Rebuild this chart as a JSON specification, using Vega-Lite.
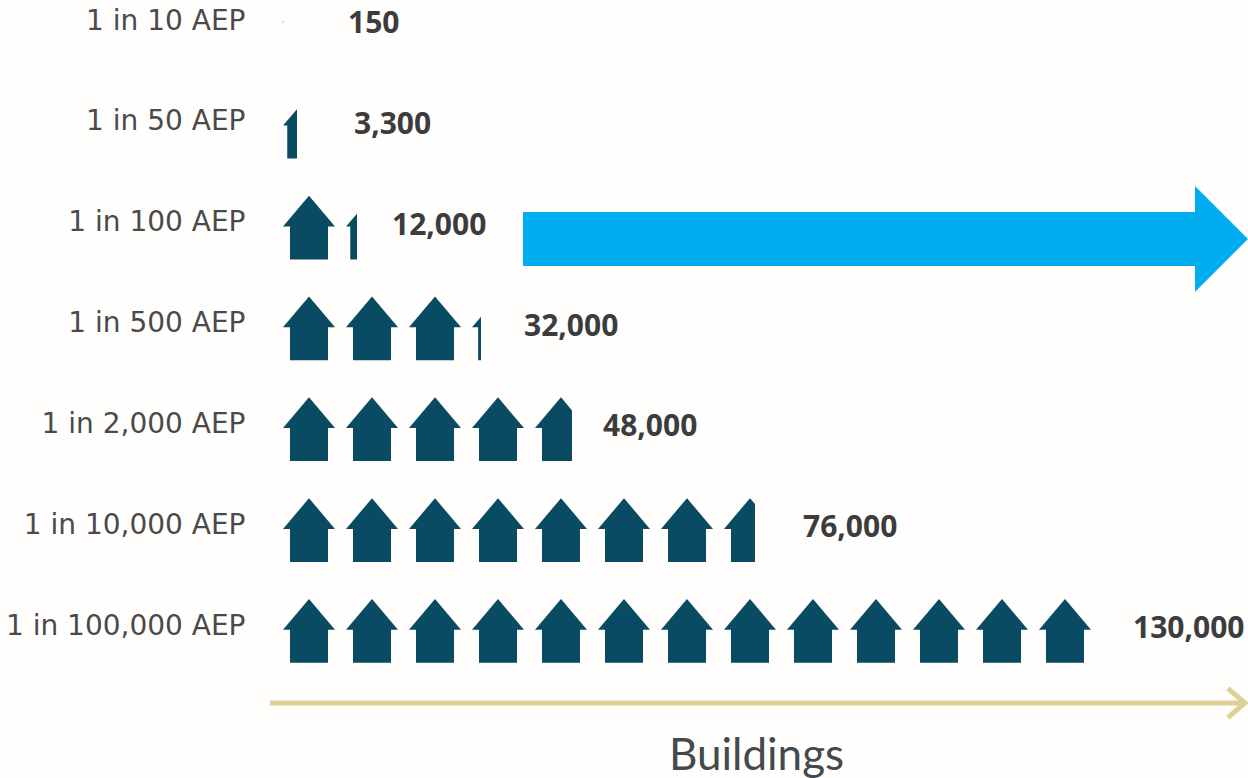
{
"$schema":"https://vega.github.io/schema/vega-lite/v6.json",
"width":1248,"height":778,"padding":0,"autosize":{"type":"none"},
"background":"#fffefc",
"config":{"view":{"stroke":null}},
"datasets":{
"houses":[
{"aep":"1 in 10 AEP","units":5000,"portion":"speck"},
{"aep":"1 in 50 AEP","units":5000,"portion":"0.27"},
{"aep":"1 in 100 AEP","units":5000,"portion":"full"},
{"aep":"1 in 100 AEP","units":15000,"portion":"0.21"},
{"aep":"1 in 500 AEP","units":5000,"portion":"full"},
{"aep":"1 in 500 AEP","units":15000,"portion":"full"},
{"aep":"1 in 500 AEP","units":25000,"portion":"full"},
{"aep":"1 in 500 AEP","units":35000,"portion":"0.17"},
{"aep":"1 in 2,000 AEP","units":5000,"portion":"full"},
{"aep":"1 in 2,000 AEP","units":15000,"portion":"full"},
{"aep":"1 in 2,000 AEP","units":25000,"portion":"full"},
{"aep":"1 in 2,000 AEP","units":35000,"portion":"full"},
{"aep":"1 in 2,000 AEP","units":45000,"portion":"0.71"},
{"aep":"1 in 10,000 AEP","units":5000,"portion":"full"},
{"aep":"1 in 10,000 AEP","units":15000,"portion":"full"},
{"aep":"1 in 10,000 AEP","units":25000,"portion":"full"},
{"aep":"1 in 10,000 AEP","units":35000,"portion":"full"},
{"aep":"1 in 10,000 AEP","units":45000,"portion":"full"},
{"aep":"1 in 10,000 AEP","units":55000,"portion":"full"},
{"aep":"1 in 10,000 AEP","units":65000,"portion":"full"},
{"aep":"1 in 10,000 AEP","units":75000,"portion":"0.60"},
{"aep":"1 in 100,000 AEP","units":5000,"portion":"full"},
{"aep":"1 in 100,000 AEP","units":15000,"portion":"full"},
{"aep":"1 in 100,000 AEP","units":25000,"portion":"full"},
{"aep":"1 in 100,000 AEP","units":35000,"portion":"full"},
{"aep":"1 in 100,000 AEP","units":45000,"portion":"full"},
{"aep":"1 in 100,000 AEP","units":55000,"portion":"full"},
{"aep":"1 in 100,000 AEP","units":65000,"portion":"full"},
{"aep":"1 in 100,000 AEP","units":75000,"portion":"full"},
{"aep":"1 in 100,000 AEP","units":85000,"portion":"full"},
{"aep":"1 in 100,000 AEP","units":95000,"portion":"full"},
{"aep":"1 in 100,000 AEP","units":105000,"portion":"full"},
{"aep":"1 in 100,000 AEP","units":115000,"portion":"full"},
{"aep":"1 in 100,000 AEP","units":125000,"portion":"full"}
],
"totals":[
{"aep":"1 in 10 AEP","buildings":150,"labelAt":11190},
{"aep":"1 in 50 AEP","buildings":3300,"labelAt":12143},
{"aep":"1 in 100 AEP","buildings":12000,"labelAt":18175},
{"aep":"1 in 500 AEP","buildings":32000,"labelAt":39127},
{"aep":"1 in 2,000 AEP","buildings":48000,"labelAt":51667},
{"aep":"1 in 10,000 AEP","buildings":76000,"labelAt":83413},
{"aep":"1 in 100,000 AEP","buildings":130000,"labelAt":135794}
]
},
"encoding":{
"y":{"field":"aep","type":"ordinal","scale":{"type":"point","padding":0,"domain":["1 in 10 AEP","1 in 50 AEP","1 in 100 AEP","1 in 500 AEP","1 in 2,000 AEP","1 in 10,000 AEP","1 in 100,000 AEP"],"range":[27,632]},
"axis":{"orient":"left","offset":-245,"title":null,"domain":false,"ticks":false,"grid":false,"labelPadding":0,"labelOffset":-6,"labelLimit":400,"labelFont":"DejaVu Sans","labelFontSize":28,"labelColor":"#4a4a4a","labelAlign":"right","labelBaseline":"middle"}}
},
"layer":[
{"data":{"name":"houses"},
"mark":{"type":"point","filled":true,"size":4096,"opacity":1,"strokeWidth":0,"color":"#084b63"},
"encoding":{
"x":{"field":"units","type":"quantitative","scale":{"domain":[-44048,154048],"nice":false,"zero":false},
"axis":{"orient":"bottom","title":"Buildings","labels":false,"ticks":false,"domain":false,"grid":false,"titleFont":"Lato","titleFontSize":44,"titleFontWeight":"normal","titleColor":"#44494d","titleX":756,"titleY":-22,"titleAlign":"center","titleBaseline":"middle"}},
"shape":{"field":"portion","type":"nominal","legend":null,"scale":{"domain":["full","0.27","0.21","0.17","0.71","0.60","speck"],"range":[
"M0,-1.03L0.8125,-0.07L0.594,-0.07L0.594,0.96L-0.594,0.96L-0.594,-0.07L-0.8125,-0.07Z",
"M-0.8125,-0.07L-0.375,-0.58L-0.375,0.96L-0.68,0.96L-0.68,-0.07Z",
"M-0.8125,-0.07L-0.469,-0.47L-0.469,0.96L-0.68,0.96L-0.68,-0.07Z",
"M-0.8125,-0.07L-0.531,-0.40L-0.531,0.96L-0.62,0.96L-0.62,-0.07Z",
"M-0.8125,-0.07L0,-1.03L0.344,-0.62L0.344,0.96L-0.594,0.96L-0.594,-0.07Z",
"M-0.8125,-0.07L0,-1.03L0.156,-0.85L0.156,0.96L-0.594,0.96L-0.594,-0.07Z",
"M-0.82,-0.17L-0.8,-0.17L-0.8,-0.14L-0.82,-0.14Z"
]}}
}},
{"data":{"name":"totals"},
"mark":{"type":"text","align":"left","baseline":"middle","dy":-3,"font":"Open Sans","fontWeight":"bold","fontSize":30,"color":"#3c3c3c"},
"encoding":{
"x":{"field":"labelAt","type":"quantitative"},
"text":{"field":"buildings","type":"quantitative","format":","}
}},
{"data":{"values":[{"aep":"1 in 100 AEP","units":96508}]},
"mark":{"type":"point","filled":true,"size":525625,"opacity":1,"strokeWidth":0,"color":"#00aeef","shape":"M-1,-0.0461L0.8538,-0.0461L0.8538,-0.1178L1,0.0284L0.8538,0.1746L0.8538,0.1029L-1,0.1029Z"},
"encoding":{"x":{"field":"units","type":"quantitative"}}},
{"data":{"values":[{"aep":"1 in 100,000 AEP","units":76190}]},
"mark":{"type":"point","filled":false,"size":950625,"opacity":1,"strokeWidth":5,"color":"#dcd296","shape":"M-1,0.1456L1,0.1456M0.965,0.1156L1,0.1456L0.965,0.1756"},
"encoding":{"x":{"field":"units","type":"quantitative"}}}
]
}
